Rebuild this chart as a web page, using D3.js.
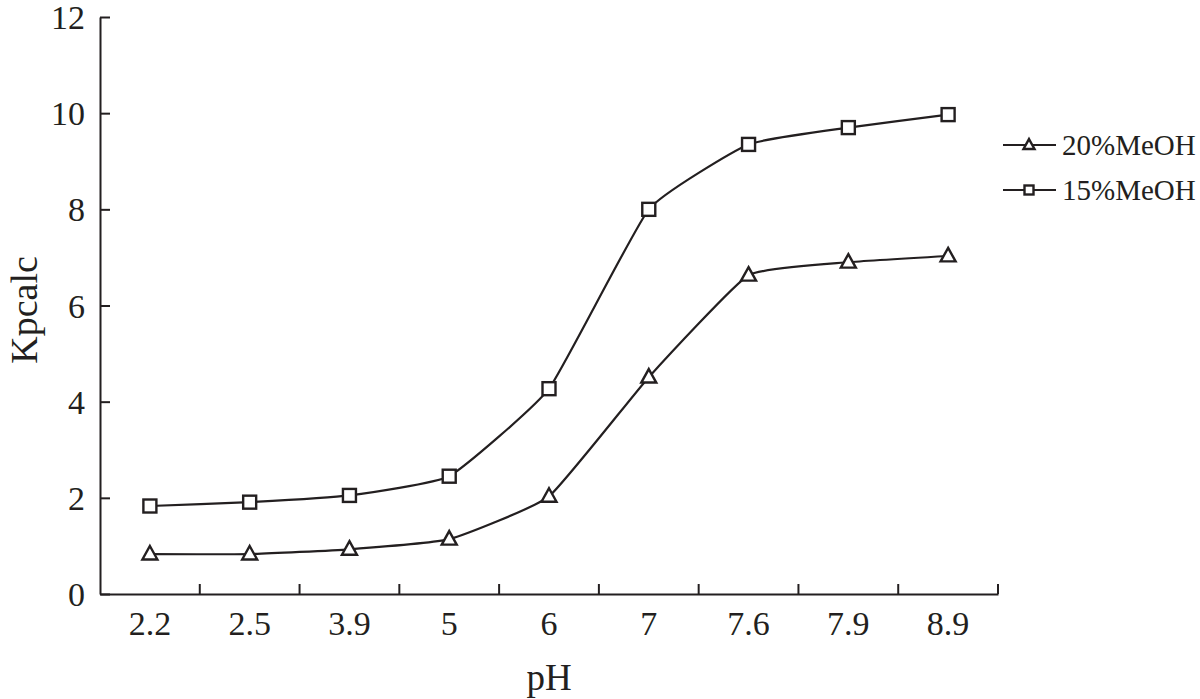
<!DOCTYPE html>
<html>
<head>
<meta charset="utf-8">
<script src="https://cdn.jsdelivr.net/npm/d3@7"></script>
<style>
  body { margin: 0; background: #fff; }
  text { font-family: "Liberation Serif", "Times New Roman", serif; fill: #231f20; }
</style>
</head>
<body>
<div id="chart"></div>
<script>
// data
var phLabels = ["2.2", "2.5", "3.9", "5", "6", "7", "7.6", "7.9", "8.9"];
var meoh20 = [0.83, 0.83, 0.93, 1.14, 2.03, 4.51, 6.63, 6.90, 7.03];
var meoh15 = [1.83, 1.91, 2.05, 2.45, 4.27, 8.00, 9.35, 9.70, 9.97];
var yTicks = [0, 2, 4, 6, 8, 10, 12];

var svgWidth = 1200;
var svgHeight = 699;
var chartMargin = { top: 17, right: 202, bottom: 105, left: 100 };
var chartWidth = svgWidth - chartMargin.left - chartMargin.right;
var chartHeight = svgHeight - chartMargin.top - chartMargin.bottom;
var ink = "#231f20";

var svg = d3.select("#chart").append("svg")
  .attr("width", svgWidth)
  .attr("height", svgHeight);

var chartGroup = svg.append("g")
  .attr("transform", `translate(${chartMargin.left}, ${chartMargin.top})`);

var xScale = d3.scaleBand().domain(phLabels).range([0, chartWidth]);
var yScale = d3.scaleLinear().domain([0, 12]).range([chartHeight, 0]);

// y axis, ticks point inward
var leftAxis = d3.axisLeft(yScale).tickValues(yTicks).tickSizeInner(-10).tickSizeOuter(0).tickPadding(15);
var yG = chartGroup.append("g").call(leftAxis);
yG.selectAll("text").style("font-size", "34px").attr("dy", "0.34em");

// x axis: labels at band centres, ticks at band edges
var bottomAxis = d3.axisBottom(xScale).tickSize(0).tickPadding(17);
var xG = chartGroup.append("g").attr("transform", `translate(0,${chartHeight})`).call(bottomAxis);
xG.selectAll("text").style("font-size", "34px");
xG.selectAll(".tick line").remove();
xG.selectAll(".tick-edge")
  .data(phLabels)
  .enter().append("line")
  .attr("x1", function(d) { return xScale(d) + xScale.bandwidth(); })
  .attr("x2", function(d) { return xScale(d) + xScale.bandwidth(); })
  .attr("y1", 0).attr("y2", -10)
  .attr("stroke", ink).attr("stroke-width", 2);

chartGroup.selectAll(".domain").attr("stroke", ink).attr("stroke-width", 2);
chartGroup.selectAll(".tick line").attr("stroke", ink).attr("stroke-width", 2);

var line = d3.line()
  .x(function(d, i) { return xScale(phLabels[i]) + xScale.bandwidth() / 2; })
  .y(function(d) { return yScale(d); })
  .curve(d3.curveCardinal.tension(0.6));

var series = [
  { name: "20%MeOH", values: meoh20, shape: "tri" },
  { name: "15%MeOH", values: meoh15, shape: "sq" }
];

function drawMarker(g, shape, size) {
  if (shape === "sq") {
    g.append("rect")
      .attr("x", -size / 2).attr("y", -size / 2)
      .attr("width", size).attr("height", size)
      .attr("fill", "#fff").attr("stroke", ink).attr("stroke-width", 2.4);
  } else {
    var h = size * 0.9;
    g.append("path")
      .attr("d", `M0,${-h * 0.6}L${size / 2},${h * 0.4}L${-size / 2},${h * 0.4}Z`)
      .attr("fill", "#fff").attr("stroke", ink).attr("stroke-width", 2.4)
      .attr("stroke-linejoin", "miter");
  }
}

series.forEach(function(s) {
  chartGroup.append("path")
    .datum(s.values)
    .attr("d", line)
    .attr("fill", "none")
    .attr("stroke", ink)
    .attr("stroke-width", 2.2);

  s.values.forEach(function(v, i) {
    var g = chartGroup.append("g")
      .attr("transform", `translate(${xScale(phLabels[i]) + xScale.bandwidth() / 2},${yScale(v)})`);
    drawMarker(g, s.shape, s.shape === "sq" ? 13 : 15);
  });
});

// axis titles
svg.append("text")
  .attr("transform", "translate(37,310) rotate(-90)")
  .style("text-anchor", "middle")
  .style("font-size", "38px")
  .text("Kpcalc");

svg.append("text")
  .attr("x", chartMargin.left + chartWidth / 2)
  .attr("y", 690)
  .style("text-anchor", "middle")
  .style("font-size", "37px")
  .text("pH");

// legend
var legend = svg.append("g").attr("transform", "translate(1003,145)");
series.forEach(function(s, i) {
  var row = legend.append("g").attr("transform", `translate(0,${i * 45})`);
  row.append("line").attr("x1", 0).attr("x2", 53).attr("y1", 0).attr("y2", 0)
    .attr("stroke", ink).attr("stroke-width", 2);
  var m = row.append("g").attr("transform", "translate(26,0)");
  drawMarker(m, s.shape, s.shape === "sq" ? 9 : 11);
  row.append("text")
    .attr("x", 59).attr("y", 0).attr("dy", "0.34em")
    .style("font-size", "29px")
    .text(s.name);
});
</script>
</body>
</html>
